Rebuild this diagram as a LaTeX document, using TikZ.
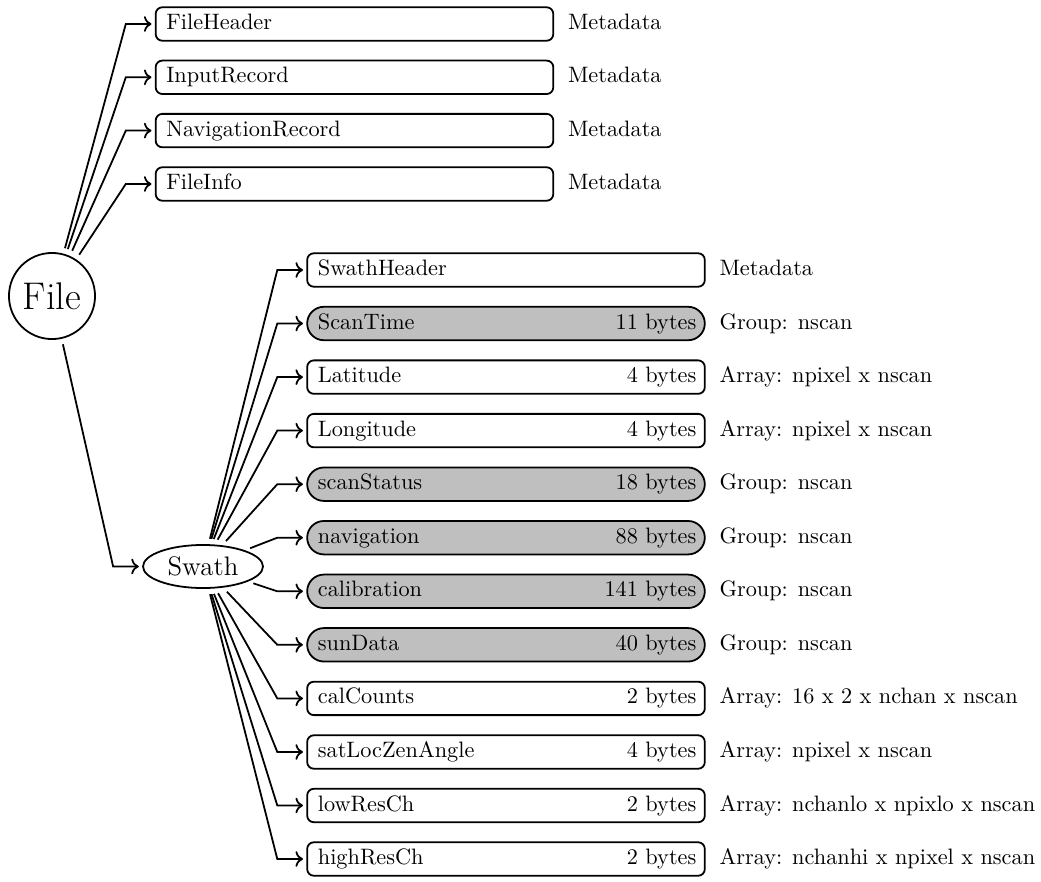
\documentclass[tikz,border=0pt]{standalone}
\usetikzlibrary{arrows.meta,shapes.geometric}
\begin{document}
\begin{tikzpicture}[x=0.4484pt,y=-0.4484pt,
  conn/.style={->, thick, shorten <=2.5pt, shorten >=1.5pt},
  wbox/.style={draw, thick, rounded corners=3pt, minimum width=178.3pt, minimum height=15pt, inner sep=0pt},
  gbox/.style={draw, thick, fill=black!25, rounded corners=7.5pt, minimum width=178.3pt, minimum height=15pt, inner sep=0pt},
  txt/.style={inner sep=0pt, text height=6.9pt, text depth=1.9pt},
  nm/.style={txt, anchor=west},
  by/.style={txt, anchor=east},
  lb/.style={txt, anchor=west}]
\useasboundingbox (0,0) rectangle (1041,882);

\node[draw, thick, circle, minimum size=38.6pt, inner sep=0pt, font=\LARGE] (file) at (52,296) {File};
\node[draw, thick, ellipse, minimum width=53.8pt, minimum height=19.3pt, inner sep=0pt, font=\large] (swath) at (203,566.5) {Swath};

% top level boxes
\node[wbox] (h1) at (354.5,24) {};
\node[wbox] (h2) at (354.5,77.3) {};
\node[wbox] (h3) at (354.5,130.6) {};
\node[wbox] (h4) at (354.5,184) {};
\node[nm] (h1n) at ([xshift=5pt]h1.west) {FileHeader};
\node[nm] (h2n) at ([xshift=5pt]h2.west) {InputRecord};
\node[nm] (h3n) at ([xshift=5pt]h3.west) {NavigationRecord};
\node[nm] (h4n) at ([xshift=5pt]h4.west) {FileInfo};
\node[lb] (h1l) at ([xshift=6pt]h1.east) {Metadata};
\node[lb] (h2l) at ([xshift=6pt]h2.east) {Metadata};
\node[lb] (h3l) at ([xshift=6pt]h3.east) {Metadata};
\node[lb] (h4l) at ([xshift=6pt]h4.east) {Metadata};

% swath children
\node[wbox] (s1) at (506,270) {};
\node[gbox] (s2) at (506,323.5) {};
\node[wbox] (s3) at (506,377.1) {};
\node[wbox] (s4) at (506,430.6) {};
\node[gbox] (s5) at (506,484.2) {};
\node[gbox] (s6) at (506,537.7) {};
\node[gbox] (s7) at (506,591.3) {};
\node[gbox] (s8) at (506,644.8) {};
\node[wbox] (s9) at (506,698.4) {};
\node[wbox] (s10) at (506,752) {};
\node[wbox] (s11) at (506,805.5) {};
\node[wbox] (s12) at (506,859) {};

\node[nm] at ([xshift=5pt]s1.west) {SwathHeader};
\node[nm] at ([xshift=5pt]s2.west) {ScanTime};
\node[nm] at ([xshift=5pt]s3.west) {Latitude};
\node[nm] at ([xshift=5pt]s4.west) {Longitude};
\node[nm] at ([xshift=5pt]s5.west) {scanStatus};
\node[nm] at ([xshift=5pt]s6.west) {navigation};
\node[nm] at ([xshift=5pt]s7.west) {calibration};
\node[nm] at ([xshift=5pt]s8.west) {sunData};
\node[nm] at ([xshift=5pt]s9.west) {calCounts};
\node[nm] at ([xshift=5pt]s10.west) {satLocZenAngle};
\node[nm] at ([xshift=5pt]s11.west) {lowResCh};
\node[nm] at ([xshift=5pt]s12.west) {highResCh};

\node[by] at ([xshift=-4pt]s2.east) {11 bytes};
\node[by] at ([xshift=-4pt]s3.east) {4 bytes};
\node[by] at ([xshift=-4pt]s4.east) {4 bytes};
\node[by] at ([xshift=-4pt]s5.east) {18 bytes};
\node[by] at ([xshift=-4pt]s6.east) {88 bytes};
\node[by] at ([xshift=-4pt]s7.east) {141 bytes};
\node[by] at ([xshift=-4pt]s8.east) {40 bytes};
\node[by] at ([xshift=-4pt]s9.east) {2 bytes};
\node[by] at ([xshift=-4pt]s10.east) {4 bytes};
\node[by] at ([xshift=-4pt]s11.east) {2 bytes};
\node[by] at ([xshift=-4pt]s12.east) {2 bytes};

\node[lb] at ([xshift=6pt]s1.east) {Metadata};
\node[lb] at ([xshift=6pt]s2.east) {Group: nscan};
\node[lb] at ([xshift=6pt]s3.east) {Array: npixel x nscan};
\node[lb] at ([xshift=6pt]s4.east) {Array: npixel x nscan};
\node[lb] at ([xshift=6pt]s5.east) {Group: nscan};
\node[lb] at ([xshift=6pt]s6.east) {Group: nscan};
\node[lb] at ([xshift=6pt]s7.east) {Group: nscan};
\node[lb] at ([xshift=6pt]s8.east) {Group: nscan};
\node[lb] at ([xshift=6pt]s9.east) {Array: 16 x 2 x nchan x nscan};
\node[lb] at ([xshift=6pt]s10.east) {Array: npixel x nscan};
\node[lb] at ([xshift=6pt]s11.east) {Array: nchanlo x npixlo x nscan};
\node[lb] at ([xshift=6pt]s12.east) {Array: nchanhi x npixel x nscan};

% connectors
\foreach \t in {h1,h2,h3,h4}
  \draw[conn] (file) -- ([xshift=-13pt]\t.west) -- (\t);
\draw[conn] (file) -- ([xshift=-13pt]swath.west) -- (swath);
\foreach \t in {s1,s2,s3,s4,s5,s6,s7,s8,s9,s10,s11,s12}
  \draw[conn] (swath) -- ([xshift=-13pt]\t.west) -- (\t);
\end{tikzpicture}
\end{document}
